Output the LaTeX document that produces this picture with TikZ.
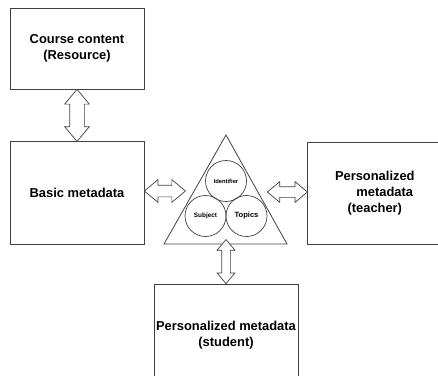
\documentclass[tikz,border=0pt]{standalone}
\usepackage{fontspec}
\setmainfont{Liberation Sans}
\usepackage{tikz}
\usetikzlibrary{shapes, arrows,positioning,calc}
\tikzstyle{block} = [rectangle, minimum width=134pt, align=center, draw=black!75, line width=0.8pt, inner sep=0pt, font=\bfseries\fontsize{12.9}{16}\selectfont]
\tikzstyle{part} = [circle, minimum size=41pt, inner sep=0pt, draw=black!75, line width=0.7pt]
\tikzstyle{link} = [double arrow, draw=black!75, line width=0.7pt, fill=white, inner xsep=0pt, double arrow tip angle=80]
\begin{document}
\begin{tikzpicture}[x=1pt,y=-1pt,node distance=52pt]
	\useasboundingbox (0,0) rectangle (438,375);
	\clip (0,0) rectangle (438,375);
	\node (Course) [block, minimum height=81pt] at (77,48.5) {Course content\\(Resource)};
	\node (Basic) [block, minimum height=103pt, below = of Course] {Basic metadata};
	\node (Teacher) [block, minimum width=154pt, minimum height=102pt, right = 163pt of Basic] {Personalized\hspace*{20pt}\\metadata\hspace*{20pt}\\(teacher)\hspace*{20pt}};
	\node (Student) [block, minimum width=144pt, minimum height=103pt] at (226,335.5) {Personalized metadata\\(student)};
	
	\coordinate (Apex) at (226,135);
	\coordinate (BaseL) at (164,244);
	\coordinate (BaseR) at (287,244);
	\draw[draw=black!75, line width=0.8pt] (Apex) -- (BaseL) -- (BaseR) -- cycle;
	\node (Identifier) [part, font=\bfseries\fontsize{5.8}{7}\selectfont] at (226,181) {Identifier};
	\node (Subject) [part, font=\bfseries\fontsize{6.4}{7}\selectfont] at (205.5,216) {Subject};
	\node (Topics) [part, font=\bfseries\fontsize{7.6}{9}\selectfont] at (246.5,216) {Topics};
	
	\node (CourseBasic) [link, rotate=90, minimum height=52pt, inner ysep=7pt, double arrow head extend=5pt] at ($(Course.south)!0.5!(Basic.north)$) {};
	\node (BasicCore) [link, minimum height=41pt, inner ysep=5.5pt, double arrow head extend=5.5pt] at ($(Basic.east |- 0,191)+(20.5,0)$) {};
	\node (CoreTeacher) [link, minimum height=40pt, inner ysep=5pt, double arrow head extend=5pt] at ($(Teacher.west |- 0,192)+(-20,0)$) {};
	\node (CoreStudent) [link, rotate=90, minimum height=44pt, inner ysep=4pt, double arrow head extend=4.5pt] at ($(Student.north)+(0,-22)$) {};
\end{tikzpicture}
\end{document}
